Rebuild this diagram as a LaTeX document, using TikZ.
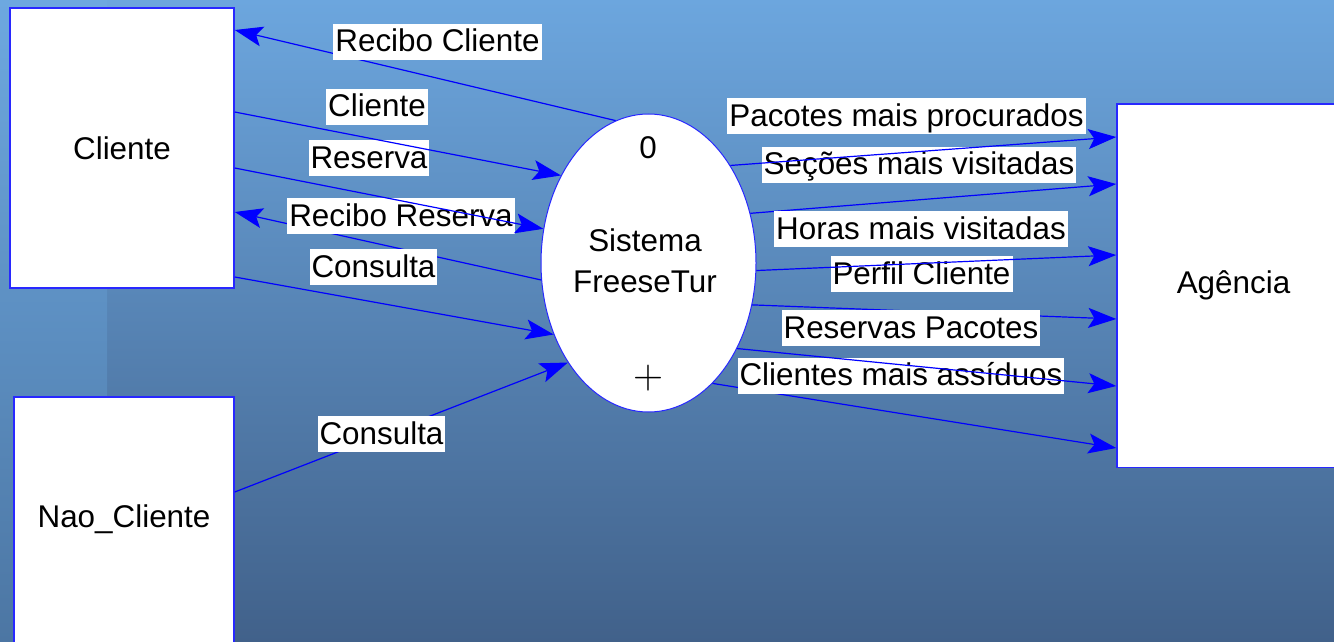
\documentclass[tikz,border=0pt]{standalone}
\usepackage{fontspec}
\setmainfont{Liberation Sans}
\usetikzlibrary{arrows.meta,positioning,shapes.geometric}

\definecolor{flowblue}{RGB}{0,0,255}
\definecolor{boxblue}{RGB}{40,40,255}
\definecolor{bgtop}{HTML}{6CA6DE}
\definecolor{bgbot}{HTML}{41618A}
\definecolor{striptop}{HTML}{6DA8E0}
\definecolor{stripbot}{HTML}{4C76A3}

\tikzset{
  entity/.style={draw=boxblue, line width=1.5pt, fill=white, inner sep=0pt},
  process/.style={ellipse, draw=boxblue, line width=1pt, fill=white, inner sep=0pt,
    minimum width=215pt, minimum height=298pt},
  flow/.style={draw=flowblue, line width=1.2pt, -{Stealth[length=28pt,width=20pt,inset=6pt]}},
  lbl/.style={fill=white, inner xsep=2pt, inner ysep=0pt, text height=28pt, text depth=8pt},
}

\begin{document}
\begin{tikzpicture}[x=1pt,y=-1pt,font=\fontsize{31.4}{41}\selectfont]
  % background
  \useasboundingbox (0,0) rectangle (1334,642);
  \shade[top color=bgtop, bottom color=bgbot] (0,0) rectangle (1334,642);
  \shade[top color=striptop, bottom color=stripbot] (0,0) rectangle (107,642);

  % entities and process
  \node[entity, minimum width=224pt, minimum height=280pt] (cli) at (122,148) {Cliente};
  \node[entity, minimum width=220pt, minimum height=263pt,
    label={[yshift=9pt]center:Nao\_Cliente}] (ncli) at (124,528.5) {};
  \node[entity, minimum width=233pt, minimum height=363.5pt] (agc) at (1233.5,285.75) {Agência};
  \node[process] (sys) at (648.5,263) {};
  \node (zero) at (648,148) {0};
  \node[align=center] (sysname) at (645,261) {Sistema\\FreeseTur};
  \node[inner sep=0pt] (plus) at (648,378) {\resizebox{30pt}{!}{$+$}};

  % flows Cliente / Nao_Cliente
  \draw[flow] (sys.103) -- ([yshift=118pt]cli.east);
  \node[lbl] (lRecCli) at (437.5,42) {Recibo Cliente};
  \draw[flow] (sys.189.5) -- ([yshift=-64pt]cli.east);
  \node[lbl] (lRecRes) at (401,216) {Recibo Reserva};
  \draw[flow] ([yshift=-20pt]cli.east) -- (sys.162.8);
  \node[lbl] (lRes) at (369,158) {Reserva};
  \draw[flow] ([yshift=36pt]cli.east) -- (sys.135.2);
  \node[lbl] (lCli) at (377,107) {Cliente};
  \draw[flow] ([yshift=-129pt]cli.east) -- (sys.217.6);
  \node[lbl] (lCons) at (373.5,267) {Consulta};
  \draw[flow] ([yshift=36.5pt]ncli.east) -- (sys.231.9);
  \node[lbl] (lConsNc) at (381.5,434) {Consulta};

  % flows Agencia
  \draw[flow] (sys.26.9) -- ([yshift=101.75pt]agc.west);
  \node[lbl] (lSec) at (919,164.5) {Seções mais visitadas};
  \draw[flow] (sys.50.8) -- ([yshift=148.75pt]agc.west);
  \node[lbl] (lPac) at (906.5,116) {Pacotes mais procurados};
  \draw[flow] (sys.338.5) -- ([yshift=-33.25pt]agc.west);
  \node[lbl] (lPerf) at (921.5,274) {Perfil Cliente};
  \draw[flow] (sys.356) -- ([yshift=30.75pt]agc.west);
  \node[lbl] (lHor) at (921,229) {Horas mais visitadas};
  \draw[flow] (sys.298.8) -- ([yshift=-162.25pt]agc.west);
  \node[lbl] (lCliAss) at (901,375.5) {Clientes mais assíduos};
  \draw[flow] (sys.316.2) -- ([yshift=-100.25pt]agc.west);
  \node[lbl] (lResPac) at (911,328) {Reservas Pacotes};
\end{tikzpicture}
\end{document}
